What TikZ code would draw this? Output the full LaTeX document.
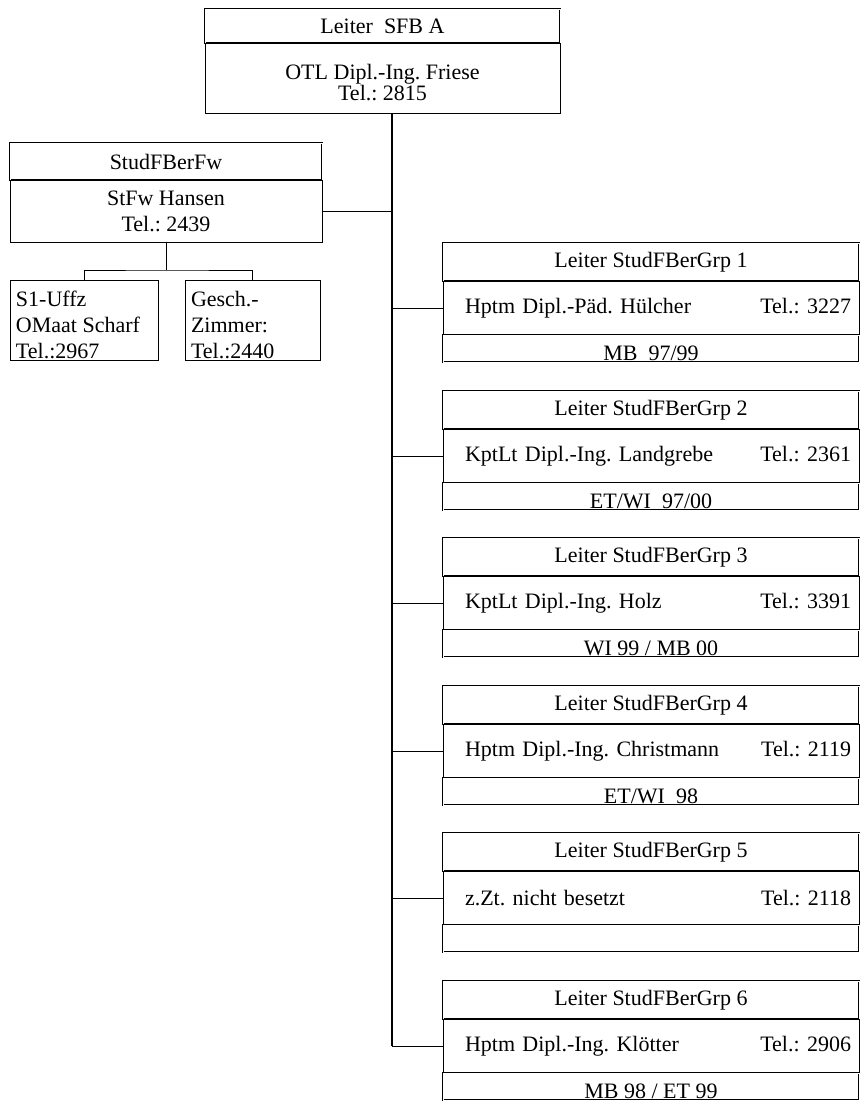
\documentclass[tikz,border=0pt]{standalone}
\usepackage{fontspec}
\setmainfont{Liberation Serif}
\usetikzlibrary{positioning}
\frenchspacing

\begin{document}
\begin{tikzpicture}[x=0.5pt, y=-0.5pt,
    font=\fontsize{11}{13}\selectfont,
    every node/.style={outer sep=0pt},
    head/.style={draw, line width=0.4pt, double, double distance=0.45pt, inner sep=0pt},
    plain/.style={draw, line width=0.45pt},
    grphead/.style={head, minimum width=208pt, minimum height=19pt},
    grpbody/.style={plain, minimum width=208pt, minimum height=27pt, text width=200pt, inner xsep=4pt, inner ysep=0pt},
    grpstrip/.style={head, minimum width=208pt, text height=12pt, text depth=0pt, inner ysep=0.75pt},
    link/.style={line width=0.45pt},
    trunk/.style={line width=0.8pt}]
    \useasboundingbox (0,0) rectangle (861,1101);
    % Leiter
    \node[head, minimum width=177.5pt, minimum height=17pt] (sfbh) at (382.5,26) {Leiter\ \ SFB A};
    \node[plain, below=0pt of sfbh, minimum width=177.5pt, minimum height=35pt, align=center] (sfbb)
        {\rule{0pt}{12pt}OTL Dipl.-Ing. Friese\\[-2.5pt]Tel.: 2815};
    \coordinate (stem) at (392,113);
    % StudFBerFw with its two offices
    \node[head, minimum width=156pt, minimum height=18.5pt] (fwh) at (166,161.5) {StudFBerFw};
    \node[plain, below=0pt of fwh, minimum width=156pt, minimum height=31pt, align=center] (fwb)
        {StFw Hansen\\Tel.: 2439};
    \node[plain, anchor=north west, inner xsep=3pt, inner ysep=1pt] (s1) at (10,280)
        {\parbox[b][38pt][b]{68pt}{S1-Uffz\\OMaat Scharf\\Tel.:2967}};
    \node[plain, anchor=north west, inner xsep=3pt, inner ysep=1pt] (gz) at (185,280)
        {\parbox[b][38pt][b]{61.5pt}{Gesch.-\\Zimmer:\\Tel.:2440}};
    \coordinate (fork) at ([yshift=-14pt]fwb.south);
    \draw[link] (fwb.south) -- (fork);
    \draw[link] (s1.north) |- (fork) -| (gz.north);
    \draw[link] (fwb.east) -- (fwb.east -| stem);
    % Group 1
    \node[grphead] (g1h) at (651,262) {Leiter StudFBerGrp 1};
    \node[grpbody, below=0pt of g1h] (g1b) {\hspace*{7pt}Hptm Dipl.-Päd. Hülcher\hfill Tel.: 3227};
    \node[grpstrip, below=0pt of g1b] (g1s) {MB\ \ 97/99};
    % Group 2
    \node[grphead] (g2h) at (651,410) {Leiter StudFBerGrp 2};
    \node[grpbody, below=0pt of g2h] (g2b) {\hspace*{7pt}KptLt Dipl.-Ing. Landgrebe\hfill Tel.: 2361};
    \node[grpstrip, below=0pt of g2b] (g2s) {ET/WI\ \ 97/00};
    % Group 3
    \node[grphead] (g3h) at (651,557) {Leiter StudFBerGrp 3};
    \node[grpbody, below=0pt of g3h] (g3b) {\hspace*{7pt}KptLt Dipl.-Ing. Holz\hfill Tel.: 3391};
    \node[grpstrip, below=0pt of g3b] (g3s) {WI 99 / MB 00};
    % Group 4
    \node[grphead] (g4h) at (651,705) {Leiter StudFBerGrp 4};
    \node[grpbody, below=0pt of g4h] (g4b) {\hspace*{7pt}Hptm Dipl.-Ing. Christmann\hfill Tel.: 2119};
    \node[grpstrip, below=0pt of g4b] (g4s) {ET/WI\ \ 98};
    % Group 5
    \node[grphead] (g5h) at (651,852) {Leiter StudFBerGrp 5};
    \node[grpbody, below=0pt of g5h] (g5b) {\hspace*{7pt}z.Zt. nicht besetzt\hfill Tel.: 2118};
    \node[grpstrip, below=0pt of g5b] (g5s) {};
    % Group 6
    \node[grphead] (g6h) at (651,1000) {Leiter StudFBerGrp 6};
    \node[grpbody, below=0pt of g6h] (g6b) {\hspace*{7pt}Hptm Dipl.-Ing. Klötter\hfill Tel.: 2906};
    \node[grpstrip, below=0pt of g6b] (g6s) {MB 98 / ET 99};
    % Trunk and branches
    \draw[trunk] (stem) -- (stem |- g6b.west);
    \draw[link] (stem |- g1b.west) -- (g1b.west);
    \draw[link] (stem |- g2b.west) -- (g2b.west);
    \draw[link] (stem |- g3b.west) -- (g3b.west);
    \draw[link] (stem |- g4b.west) -- (g4b.west);
    \draw[link] (stem |- g5b.west) -- (g5b.west);
    \draw[link] (stem |- g6b.west) -- (g6b.west);
\end{tikzpicture}
\end{document}
